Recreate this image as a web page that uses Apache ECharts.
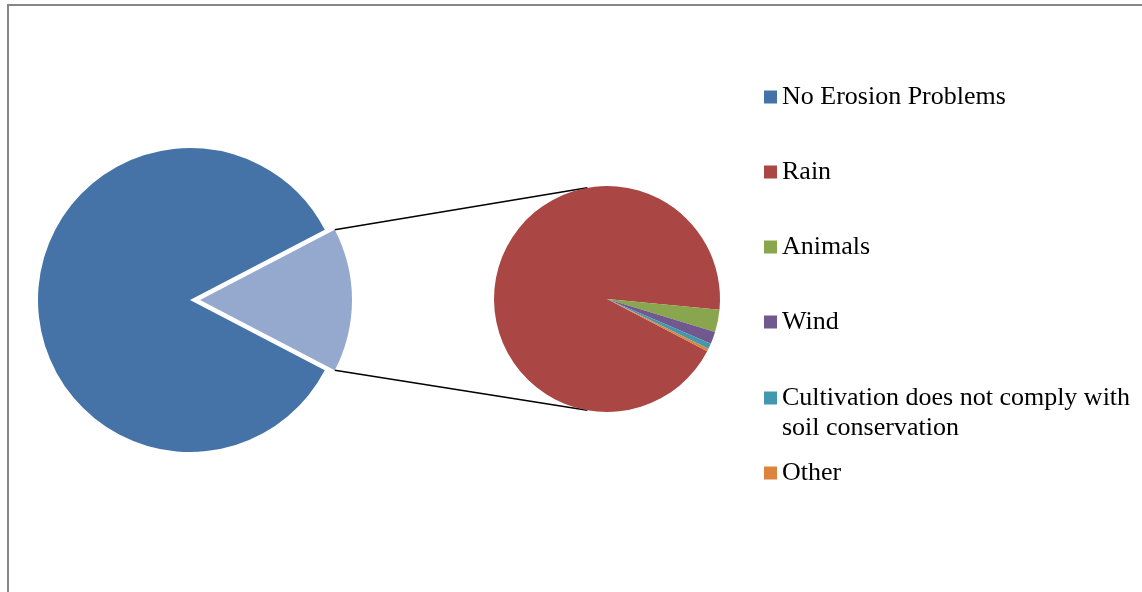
<!DOCTYPE html>
<html>
<head>
<meta charset="utf-8">
<script src="https://cdn.jsdelivr.net/npm/echarts@6/dist/echarts.min.js"></script>
<style>
  html, body { margin: 0; padding: 0; background: #fff; }
  #chart { width: 1142px; height: 592px; }
</style>
</head>
<body>
<div id="chart"></div>
<script>
// --- data (percent of all fields) ---
const mainName = 'No Erosion Problems'
const mainValue = 84.7
const causeNames = ['Rain', 'Animals', 'Wind', 'Cultivation does not comply with soil conservation', 'Other']
const causeValues = [14.37, 0.49, 0.27, 0.12, 0.06]
const combinedName = 'Erosion Problems'

// --- colours ---
const mainColor = '#4572A7'
const combinedColor = '#95A9CF'
const causeColors = ['#AA4643', '#89A54E', '#71588F', '#4198AF', '#DB843D']

// --- geometry ---
const primary = { cx: 190, cy: 300, r: 152, offset: 10 }
const secondary = { cx: 607, cy: 299, r: 113 }

const combinedValue = causeValues.reduce((a, b) => a + b, 0)
const halfAngle = combinedValue / (mainValue + combinedValue) * 180
const startAngle = 360 - halfAngle

// 连接线：主饼被拉出的扇区外角 -> 副饼顶部/底部
const rad = halfAngle * Math.PI / 180
const cornerX = primary.cx + primary.offset + primary.r * Math.cos(rad)
const cornerDy = primary.r * Math.sin(rad)
const tangentRad = 100 * Math.PI / 180
const tipX = secondary.cx + secondary.r * Math.cos(tangentRad)
const tipDy = secondary.r * Math.sin(tangentRad)

const chart = echarts.init(document.getElementById('chart'))

const labelFont = { fontFamily: 'Liberation Serif', fontSize: 26, color: '#000', lineHeight: 30 }

const option = {
  animation: false,
  legend: [
    {
      orient: 'vertical',
      left: 764,
      top: 82,
      padding: 0,
      itemGap: 45,
      itemWidth: 13,
      itemHeight: 13,
      icon: 'rect',
      selectedMode: false,
      textStyle: labelFont,
      data: [mainName, causeNames[0], causeNames[1], causeNames[2]]
    },
    {
      // 换行的图例项：图标对齐第一行（前置空行让文字块下移）
      orient: 'vertical',
      left: 764,
      top: 353,
      padding: 0,
      itemGap: 15,
      itemWidth: 13,
      itemHeight: 13,
      icon: 'rect',
      selectedMode: false,
      textStyle: labelFont,
      formatter: name => (name === causeNames[3] ? '\n' + name : name),
      data: [
        { name: causeNames[3], textStyle: { width: 360, overflow: 'break' } },
        causeNames[4]
      ]
    }
  ],
  graphic: [
    {
      type: 'rect',
      z: -10,
      silent: true,
      shape: { x: 8, y: 5, width: 1300, height: 800 },
      style: { fill: 'none', stroke: '#868686', lineWidth: 2 }
    },
    {
      type: 'line',
      silent: true,
      shape: { x1: cornerX, y1: primary.cy - cornerDy, x2: tipX, y2: secondary.cy - tipDy },
      style: { stroke: '#000', lineWidth: 1.5 }
    },
    {
      type: 'line',
      silent: true,
      shape: { x1: cornerX, y1: primary.cy + cornerDy, x2: tipX, y2: secondary.cy + tipDy },
      style: { stroke: '#000', lineWidth: 1.5 }
    }
  ],
  series: [
    {
      name: 'primary',
      type: 'pie',
      center: [primary.cx, primary.cy],
      radius: primary.r,
      startAngle: startAngle,
      selectedMode: 'single',
      selectedOffset: primary.offset,
      label: { show: false },
      labelLine: { show: false },
      emphasis: { disabled: true },
      itemStyle: { borderWidth: 0 },
      data: [
        { name: mainName, value: mainValue, itemStyle: { color: mainColor } },
        { name: combinedName, value: combinedValue, selected: true, itemStyle: { color: combinedColor } }
      ]
    },
    {
      name: 'secondary',
      type: 'pie',
      center: [secondary.cx, secondary.cy],
      radius: secondary.r,
      startAngle: startAngle,
      label: { show: false },
      labelLine: { show: false },
      emphasis: { disabled: true },
      itemStyle: { borderWidth: 0 },
      data: causeNames.map((n, i) => ({ name: n, value: causeValues[i], itemStyle: { color: causeColors[i] } }))
    }
  ]
}

chart.setOption(option)
</script>
</body>
</html>
